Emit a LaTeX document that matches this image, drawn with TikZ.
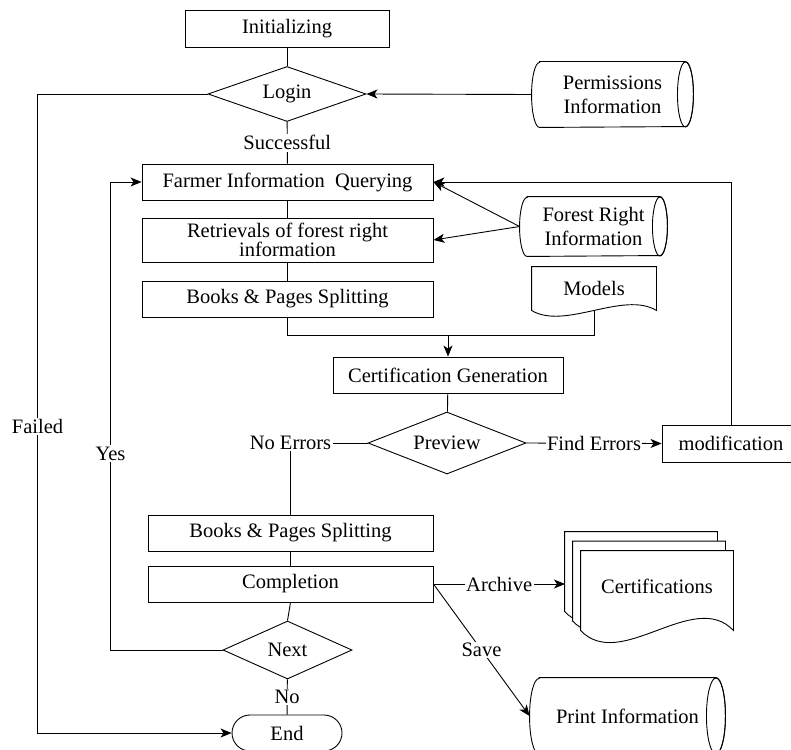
\documentclass[tikz,border=0pt]{standalone}
\usepackage{fontspec}
\setmainfont{Liberation Serif}
\usetikzlibrary{shapes.geometric, shapes.misc, arrows.meta, calc}

\begin{document}
\begin{tikzpicture}[x=1pt, y=1pt, line width=0.9pt,
        font=\fontsize{20.5}{24}\selectfont,
        >={Stealth[length=11pt, width=9pt, inset=3pt]},
        procbox/.style={draw, rectangle, minimum height=36pt, inner sep=0pt, align=center},
        decision/.style={draw, diamond, aspect=2.6, inner sep=0pt},
        storage/.style={rectangle, inner sep=0pt, align=center},
        docbox/.style={rectangle, inner sep=0pt},
        lbl/.style={fill=white, inner sep=1.5pt}]

            \clip (0,0) rectangle (791,-749);

            % main column
            \node[procbox, minimum width=204pt, minimum height=37pt] (init) at (287,-28.5) {Initializing};
            \node[decision, minimum width=158pt, minimum height=55pt] (login) at (287,-94) {Login};
            \node[procbox, minimum width=291pt] (farmer) at (287.5,-182) {Farmer Information\ \ Querying};
            \node[procbox, minimum width=291pt, minimum height=44pt] (retr) at (287.5,-240) {Retrievals of forest right\\[-5pt]information};
            \node[procbox, minimum width=291pt] (books1) at (287.5,-299) {Books \& Pages Splitting};
            \node[procbox, minimum width=230pt] (cert) at (448,-375) {Certification Generation};
            \node[decision, minimum width=158pt, minimum height=62pt] (preview) at (447,-443) {Preview};
            \node[procbox, minimum width=285pt] (books2) at (290.5,-533) {Books \& Pages Splitting};
            \node[procbox, minimum width=285pt] (compl) at (290.5,-584) {Completion};
            \node[decision, minimum width=129pt, minimum height=58pt] (next) at (287.5,-650) {Next};
            \node[draw, rounded rectangle, minimum width=110pt, minimum height=36pt, inner sep=0pt] (end) at (287,-733) {End};
            \node[procbox, minimum width=138pt, minimum height=37pt] (modif) at (731,-443.5) {modification};

            % data stores: left arc, full ellipse on the right
            \node[storage, minimum width=161pt, minimum height=65pt] (perm) at (612.5,-94.5) {Permissions\\Information};
            \node[storage, minimum width=147pt, minimum height=59pt] (forest) at (593.5,-226.5) {Forest Right\\Information};
            \node[storage, minimum width=195pt, minimum height=76pt] (print) at (627.5,-716) {Print Information};
            \foreach \nm/\r/\h in {perm/8/32.5, forest/7.5/29.5, print/9.5/38} {
                \draw ($(\nm.north west)+(\r,0)$) -- ($(\nm.north east)+(-\r,0)$) arc (90:-90:\r pt and \h pt)
                    -- ($(\nm.south west)+(\r,0)$) arc (270:90:\r pt and \h pt) -- cycle;
                \draw ($(\nm.east)+(-\r,0)$) ellipse (\r pt and \h pt);
            }

            % documents
            \node[docbox, minimum width=124pt, minimum height=43pt] (models) at (594,-288.5) {Models};
            \draw (models.south west) .. controls +(33,-20) and +(-33,20) .. (models.south east)
                -- (models.north east) -- (models.north west) -- cycle;

            \node[docbox, minimum width=152pt, minimum height=79pt] (certs) at (657,-590.5) {};
            \foreach \s in {2,1,0}
                \draw[fill=white] ($(certs.south west)+(-8*\s,9.5*\s)$) .. controls +(40,-42) and +(-40,42) .. ($(certs.south east)+(-8*\s,9.5*\s)$)
                    -- ($(certs.north east)+(-8*\s,9.5*\s)$) -- ($(certs.north west)+(-8*\s,9.5*\s)$) -- cycle;
            \node (certstext) at ($(certs)+(0,4)$) {Certifications};

            % connectors
            \draw (init) -- (login);
            \draw[->] (perm.west) -- (login.east);
            \draw (login) -- node[lbl] {Successful} (farmer);
            \draw (farmer) -- (retr);
            \draw (retr) -- (books1);
            \draw[->] (forest.west) -- (farmer.east);
            \draw[->] (forest.west) -- (retr.east);

            \coordinate (join) at (448,-335);
            \draw (books1.south) |- (join);
            \draw (models.south) |- (join);
            \draw[->] (join) -- (cert.north);
            \draw (cert) -- (preview);

            \draw[->] (preview.east) -- node[lbl] {Find Errors} (modif.west);
            \draw[->] (modif.north) |- (farmer.east);
            \draw (preview.west) -| node[lbl, pos=0.5] {No Errors} (books2.north);
            \draw (books2) -- (compl);
            \draw (compl.south) -- (next.north);
            \draw[->] (next.west) -- ++(-112,0) |- node[lbl, pos=0.21] {Yes} (farmer.west);
            \draw (next) -- node[lbl] {No} (end);
            \draw[->] (login.west) -- ++(-170,0) |- node[lbl, pos=0.26] {Failed} (end.west);

            \coordinate (certin) at (565,-584);
            \draw[->] (compl.east) -- node[lbl] {Archive} (certin);
            \draw[->] (compl.east) -- node[lbl] {Save} (print.west);
        \end{tikzpicture}
\end{document}
